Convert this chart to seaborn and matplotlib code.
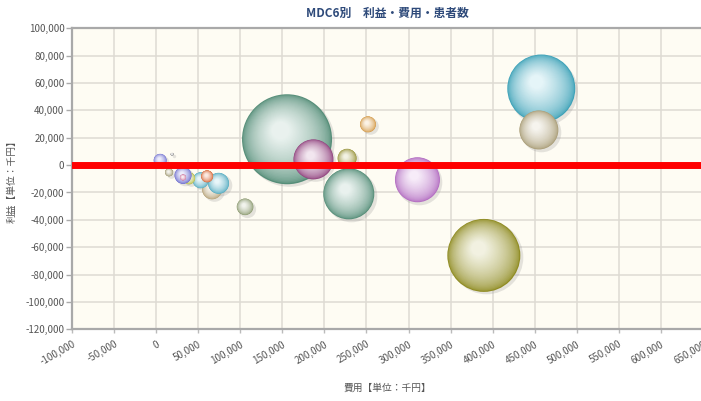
import numpy as np
import pandas as pd
import matplotlib
matplotlib.use('Agg')
import matplotlib.pyplot as plt
import matplotlib.colors as mcolors
from matplotlib.ticker import FuncFormatter
import seaborn as sns

# MDC6別 データ（費用・利益は千円、患者数でバブルの大きさ）
cost = [155600, 187000, 227000, 251800, 229000, 310600, 457800, 454900, 389500, 105700,
        66500, 74200, 52900, 60600, 39200, 32000, 32000, 4800, 15400, 19000]
profit = [18900, 4200, 5000, 29800, -21000, -10700, 56000, 25700, -66000, -30500,
          -17700, -13300, -11100, -8200, -9600, -7500, -9000, 3500, -5300, 7900]
patients = [2025, 400, 90, 64, 650, 506, 1156, 380, 1332, 69,
            100, 110, 64, 36, 36, 72, 9, 42, 16, 2]
bubble_colors = ['#5f9e86', '#a04a8c', '#a5a03a', '#eaa84a', '#5f9e86', '#c678d6', '#45b4cc',
                 '#bcae84', '#a09c28', '#98a878', '#c8b282', '#58bcd4', '#58bcd4', '#ec6a32',
                 '#c8d048', '#7474e4', '#e078a8', '#7a7ae6', '#a8a070', '#909090']

x_ticks = list(range(-100000, 650001, 50000))
y_ticks = list(range(-120000, 100001, 20000))

sns.set_style('white')
plt.rcParams['font.family'] = ['Noto Sans CJK JP', 'DejaVu Sans']

fig = plt.figure(figsize=(7.01, 4.01), dpi=100)
ax_w, ax_h = 631, 301
ax = fig.add_axes([72 / 701, 1 - 329.3 / 401, ax_w / 701, ax_h / 401])
ax.set_facecolor('#fefcf3')
ax.set_xlim(-100000, 650000)
ax.set_ylim(-120000, 100000)

px_x = ax_w / 750000
px_y = ax_h / 220000
R_MAX = 45.0
pmax = max(patients)

df = pd.DataFrame({'cost': cost, 'profit': profit, 'patients': patients, 'color': bubble_colors})

n_layers = 32
for _, row in df.iterrows():
    r = R_MAX * np.sqrt(row['patients'] / pmax)
    base = np.array(mcolors.to_rgb(row['color']))
    dark = base * 0.9
    light = base * 0.14 + np.ones(3) * 0.86

    # 影
    sh = pd.DataFrame({'x': [row['cost'] + 2.0 / px_x], 'y': [row['profit'] - 2.0 / px_y]})
    sns.scatterplot(data=sh, x='x', y='y', s=(2 * (r + 0.3) * 0.72) ** 2, color='#888888',
                    alpha=0.22, linewidth=0, ax=ax, legend=False, zorder=2)

    # 球のグラデーション
    recs = []
    pal = {}
    szs = {}
    for k in range(n_layers):
        t = k / (n_layers - 1)
        f = 1 - 0.8 * t
        off = (1 - f) * 0.3 * r
        key = f'L{k:02d}'
        w = t ** 0.55
        pal[key] = tuple(np.clip(dark * (1 - w) + light * w, 0, 1))
        szs[key] = (2 * r * f * 0.72) ** 2
        recs.append({'x': row['cost'] - 0.6 * off / px_x,
                     'y': row['profit'] + 0.8 * off / px_y,
                     'layer': key})
    layers = pd.DataFrame(recs)
    sns.scatterplot(data=layers, x='x', y='y', hue='layer', size='layer', palette=pal,
                    sizes=szs, linewidth=0, edgecolor='none', ax=ax, legend=False, zorder=3)

ax.axhline(0, color='#ff0000', lw=5.0, zorder=6)

ax.set_xticks(x_ticks)
ax.set_yticks(y_ticks)
fmt = FuncFormatter(lambda v, p: f'{int(v):,}')
ax.xaxis.set_major_formatter(fmt)
ax.yaxis.set_major_formatter(fmt)
ax.set_xlim(-100000, 650000)
ax.set_ylim(-120000, 100000)

ax.grid(True, color='#dedbd3', lw=1.1)
ax.set_axisbelow(True)
for side in ['top', 'left', 'bottom']:
    ax.spines[side].set_color('#a9a9a9')
    ax.spines[side].set_linewidth(1.6)
ax.spines['right'].set_visible(False)

ax.tick_params(axis='y', length=4, width=1.0, color='#aaaaaa', labelsize=7,
               labelcolor='#555555', pad=1.5, left=True)
ax.tick_params(axis='x', length=3, width=1.0, color='#bbbbbb', labelsize=7,
               labelcolor='#555555', pad=4, bottom=True)
for lab in ax.get_xticklabels():
    lab.set_rotation(30)
    lab.set_ha('right')
    lab.set_rotation_mode('anchor')

ax.set_xlabel('費用【単位：千円】', fontsize=7, color='#555555', labelpad=11)
ax.set_ylabel('利益【単位：千円】', fontsize=7, color='#555555', labelpad=6)
ax.set_title('MDC6別　利益・費用・患者数', fontsize=8.5, fontweight='bold',
             color='#2e4a7a', pad=8)

fig.savefig('out.png', dpi=100)
